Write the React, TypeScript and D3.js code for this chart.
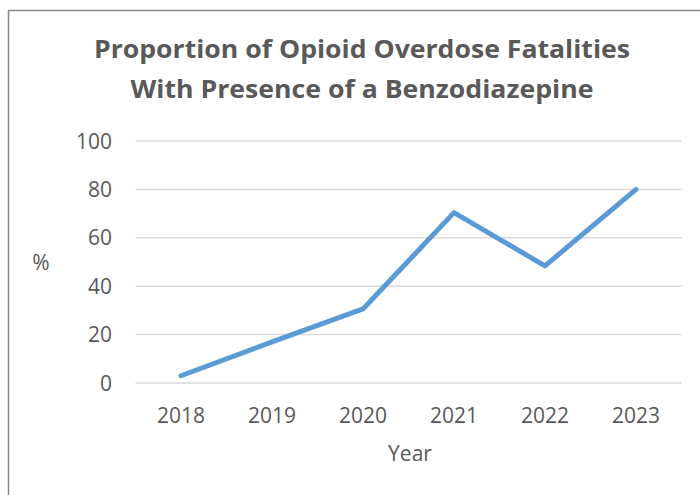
import { useEffect, useRef } from "react";
import * as d3 from "d3";

const years = ["2018", "2019", "2020", "2021", "2022", "2023"];
const percentages = [3, 17, 30.6, 70.4, 48.4, 80];
const yTicks = [0, 20, 40, 60, 80, 100];
const titleLines = [
  "Proportion of Opioid Overdose Fatalities",
  "With Presence of a Benzodiazepine",
];

const FONT = "'Open Sans', 'Liberation Sans', sans-serif";
const TEXT = "#595959";

const App = () => {
  const svgRef = useRef<SVGSVGElement | null>(null);

  useEffect(() => {
    const width = 700;
    const height = 495;
    const plot = { left: 135.5, right: 681.5, top: 141, bottom: 383 };

    const svg = d3.select(svgRef.current);
    svg.selectAll("*").remove();
    svg.attr("width", width).attr("height", height);

    svg.append("rect").attr("width", width).attr("height", height).attr("fill", "white");

    // chart area border (only top and left visible in frame)
    svg
      .append("rect")
      .attr("x", 8.5)
      .attr("y", 10.5)
      .attr("width", 720)
      .attr("height", 520)
      .attr("fill", "none")
      .attr("stroke", "#868686")
      .attr("stroke-width", 1.5);

    // title
    const titleWidths = [536, 463];
    titleLines.forEach((line, i) => {
      svg
        .append("text")
        .attr("x", 362)
        .attr("y", 58 + i * 40)
        .attr("text-anchor", "middle")
        .attr("fill", TEXT)
        .style("font-family", FONT)
        .style("font-weight", "bold")
        .style("font-size", "25px")
        .attr("textLength", titleWidths[i])
        .attr("lengthAdjust", "spacingAndGlyphs")
        .text(line);
    });

    const x = d3.scalePoint().domain(years).range([181, 636]);
    const y = d3.scaleLinear().domain([0, 100]).range([plot.bottom, plot.top]);

    // gridlines
    svg
      .selectAll(".grid")
      .data(yTicks)
      .enter()
      .append("line")
      .attr("x1", plot.left)
      .attr("x2", plot.right)
      .attr("y1", (d) => y(d))
      .attr("y2", (d) => y(d))
      .attr("stroke", "#d9d9d9")
      .attr("stroke-width", 1.5);

    // y tick labels
    svg
      .selectAll(".ylab")
      .data(yTicks)
      .enter()
      .append("text")
      .attr("x", 112)
      .attr("y", (d) => y(d))
      .attr("dy", "0.36em")
      .attr("text-anchor", "end")
      .attr("fill", TEXT)
      .style("font-family", FONT)
      .style("font-size", "21px")
      .text((d) => d);

    // x tick labels
    svg
      .selectAll(".xlab")
      .data(years)
      .enter()
      .append("text")
      .attr("x", (d) => x(d) as number)
      .attr("y", 423)
      .attr("text-anchor", "middle")
      .attr("fill", TEXT)
      .style("font-family", FONT)
      .style("font-size", "21px")
      .text((d) => d);

    // axis titles
    svg
      .append("text")
      .attr("x", 410)
      .attr("y", 461)
      .attr("text-anchor", "middle")
      .attr("fill", TEXT)
      .style("font-family", FONT)
      .style("font-size", "21px")
      .text("Year");

    svg
      .append("text")
      .attr("x", 41)
      .attr("y", 270)
      .attr("text-anchor", "middle")
      .attr("fill", TEXT)
      .style("font-family", FONT)
      .style("font-size", "21px")
      .text("%");

    // line
    const line = d3
      .line<number>()
      .x((_, i) => x(years[i]) as number)
      .y((d) => y(d));

    svg
      .append("path")
      .datum(percentages)
      .attr("d", line)
      .attr("fill", "none")
      .attr("stroke", "#5b9bd5")
      .attr("stroke-width", 5)
      .attr("stroke-linecap", "round")
      .attr("stroke-linejoin", "round");
  }, []);

  return (
    <svg
      ref={svgRef}
      style={{ position: "absolute", left: 0, top: 0, display: "block" }}
    ></svg>
  );
};

export default App;
